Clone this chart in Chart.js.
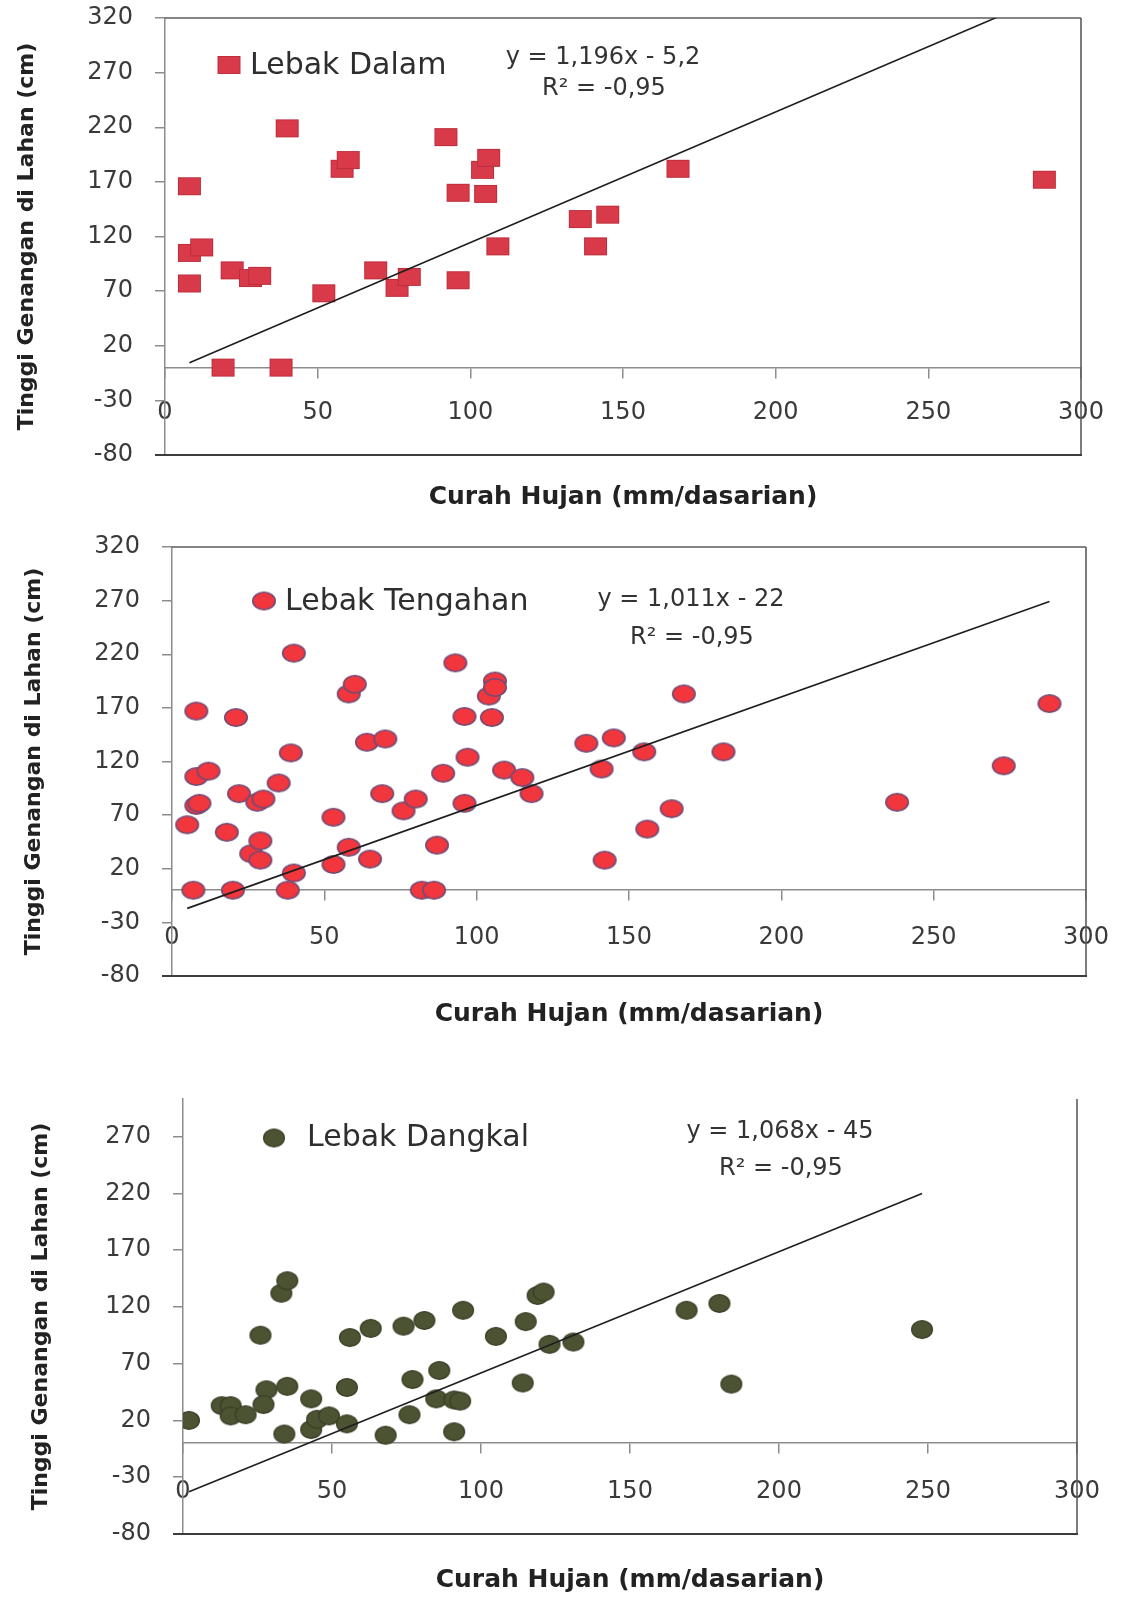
<!DOCTYPE html>
<html>
<head>
<meta charset="utf-8">
<script src="https://cdn.jsdelivr.net/npm/chart.js@4.4.0/dist/chart.umd.min.js"></script>
<style>
  html, body { margin: 0; padding: 0; background: #ffffff; }
  #page { position: relative; width: 1126px; height: 1597px; overflow: hidden; background: #fff; }
  .box { position: absolute; left: 0; width: 1126px; }
  canvas { display: block; }
</style>
</head>
<body>
<div id="page">
  <div class="box" style="top:0px;height:530px"><canvas id="c1"></canvas></div>
  <div class="box" style="top:530px;height:510px"><canvas id="c2"></canvas></div>
  <div class="box" style="top:1040px;height:557px"><canvas id="c3"></canvas></div>
</div>
<script>
// ---------------- DATA ----------------
const yTickValues = [-80, -30, 20, 70, 120, 170, 220, 270, 320];
const xTitle = 'Curah Hujan (mm/dasarian)';
const yTitle = 'Tinggi Genangan di Lahan (cm)';

const dalamLabel = 'Lebak Dalam';
const dalamX = [8, 8, 12, 8, 22, 28, 31, 19, 38, 40, 58, 60, 52, 69, 76, 80, 92, 96, 96, 104, 106, 105, 109, 136, 145, 141, 168, 288];
const dalamY = [166, 105, 110, 77, 89, 82, 84, 0, 0, 219, 182, 190, 68, 89, 73, 83, 211, 160, 80, 181, 192, 159, 111, 136, 140, 111, 182, 172];
const dalamTrend = [1.196, -5.2];
const dalamEq = ['y = 1,196x - 5,2', 'R\u00B2 = -0,95'];

const tengLabel = 'Lebak Tengahan';
const tengX = [8, 21, 8, 12, 8, 9, 5, 7, 20, 18, 22, 28, 30, 26, 29, 29, 35, 39, 40, 40, 38, 53, 53, 58, 58, 60, 64, 70, 65, 69, 76, 80, 82, 86, 87, 89, 93, 96, 97, 96, 104, 106, 106, 105, 109, 115, 118, 136, 145, 141, 155, 142, 156, 164, 168, 181, 238, 273, 288];
const tengY = [167, 161, 106, 111, 79, 81, 61, 0, 0, 54, 90, 82, 85, 34, 46, 28, 100, 128, 221, 16, 0, 68, 24, 40, 183, 192, 138, 141, 29, 90, 74, 85, 0, 0, 42, 109, 212, 162, 124, 81, 181, 195, 189, 161, 112, 105, 90, 137, 142, 113, 129, 28, 57, 76, 183, 129, 82, 116, 174];
const tengTrend = [1.011, -22];
const tengEq = ['y = 1,011x - 22', 'R\u00B2 = -0,95'];

const dangLabel = 'Lebak Dangkal';
const dangX = [2, 13, 16, 16, 21, 26, 28, 27, 33, 35, 35, 34, 43, 43, 45, 49, 55, 55, 56, 63, 68, 74, 81, 77, 76, 86, 85, 91, 93, 91, 94, 105, 115, 114, 119, 121, 123, 131, 169, 180, 184, 248];
const dangY = [20, 33, 33, 24, 25, 95, 47, 34, 132, 143, 50, 8, 39, 12, 21, 24, 17, 49, 93, 101, 7, 103, 108, 56, 25, 64, 39, 38, 37, 10, 117, 94, 107, 53, 130, 133, 87, 89, 117, 123, 52, 100];
const dangTrend = [1.068, -45];
const dangEq = ['y = 1,068x - 45', 'R\u00B2 = -0,95'];

// ---------------- STYLE / LAYOUT ----------------
Chart.defaults.font.family = "'DejaVu Sans', 'Liberation Sans', sans-serif";
Chart.defaults.color = '#3a3a3a';

function makeMarker(shape, w, h, fill, stroke, lw) {
  const c = document.createElement('canvas');
  c.width = w + 2; c.height = h + 2;
  const g = c.getContext('2d');
  g.fillStyle = fill;
  if (shape === 'rect') {
    g.fillRect(1, 1, w, h);
    if (stroke) { g.lineWidth = lw; g.strokeStyle = stroke; g.strokeRect(1 + lw / 2, 1 + lw / 2, w - lw, h - lw); }
  } else {
    const off = stroke ? lw / 2 : 0;
    g.beginPath();
    g.ellipse(c.width / 2, c.height / 2, w / 2 - off, h / 2 - off, 0, 0, Math.PI * 2);
    g.fill();
    if (stroke) { g.lineWidth = lw; g.strokeStyle = stroke; g.stroke(); }
  }
  return c;
}

const squareMarker = makeMarker('rect', 23, 18, '#d83a49', 'rgba(170,40,55,0.6)', 1);
const redMarker = makeMarker('ellipse', 24, 19, '#f1363d', '#6f4c78', 1.6);
const oliveMarker = makeMarker('ellipse', 22, 19, '#4c5332', '#3a3e26', 1.2);

const framePlugin = {
  id: 'frame',
  beforeDatasetsDraw(chart, args, o) {
    const { ctx, chartArea: a } = chart;
    ctx.save();
    ctx.strokeStyle = '#5c5c5c';
    ctx.lineWidth = 1.6;
    ctx.beginPath();
    if (o.top) { ctx.moveTo(a.left, a.top); ctx.lineTo(a.right, a.top); }
    ctx.moveTo(a.right, a.top); ctx.lineTo(a.right, a.bottom);
    ctx.stroke();
    ctx.beginPath();
    ctx.strokeStyle = '#3c3c3c';
    ctx.lineWidth = 1.8;
    ctx.moveTo(a.left - 10, a.bottom); ctx.lineTo(a.right + 1, a.bottom);
    ctx.stroke();
    ctx.restore();
  }
};

const annotPlugin = {
  id: 'annot',
  afterDraw(chart, args, o) {
    const ctx = chart.ctx;
    ctx.save();
    const m = o.marker;
    ctx.drawImage(m, o.legend.mx - m.width / 2, o.legend.my - m.height / 2);
    ctx.fillStyle = '#2e2e2e';
    ctx.font = "30px 'DejaVu Sans', sans-serif";
    ctx.textAlign = 'left';
    ctx.textBaseline = 'middle';
    ctx.fillText(chart.data.datasets[0].label, o.legend.tx, o.legend.ty);
    ctx.font = "24px 'DejaVu Sans', sans-serif";
    ctx.fillStyle = '#333333';
    ctx.textAlign = 'center';
    ctx.fillText(o.eq[0], o.eqPos[0], o.eqPos[1]);
    ctx.fillText(o.eq[1], o.eqPos[2], o.eqPos[3]);
    ctx.restore();
  }
};

function makeChart(id, label, xs, ys, trend, eq, marker, L) {
  const points = xs.map((x, i) => ({ x: x, y: ys[i] }));
  const x0 = Math.min(...xs), x1 = Math.max(...xs);
  const line = [
    { x: x0, y: trend[0] * x0 + trend[1] },
    { x: x1, y: trend[0] * x1 + trend[1] }
  ];
  const axisGray = '#8c8c8c';
  return new Chart(document.getElementById(id), {
    type: 'scatter',
    data: {
      datasets: [
        { label: label, data: points, pointStyle: marker, pointRadius: 10, pointHoverRadius: 10, order: 1 },
        { label: 'trend', data: line, showLine: true, borderColor: '#1e1e1e', borderWidth: 1.6, pointRadius: 0, pointHoverRadius: 0, fill: false, order: 0 }
      ]
    },
    options: {
      responsive: true,
      maintainAspectRatio: false,
      animation: false,
      events: [],
      layout: { padding: { top: L.padTop, right: L.padRight, left: L.padLeft, bottom: L.padBottom } },
      plugins: {
        legend: { display: false },
        tooltip: { enabled: false },
        frame: { top: L.topBorder },
        annot: { marker: marker, legend: L.legend, eq: eq, eqPos: L.eqPos }
      },
      scales: {
        x: {
          type: 'linear', position: { y: 0 }, min: 0, max: 300,
          ticks: { stepSize: 50, padding: L.xTickPad, color: '#3a3a3a', font: { size: 24 }, maxRotation: 0, autoSkip: false },
          grid: { drawOnChartArea: false, drawTicks: true, tickLength: 10, color: axisGray, lineWidth: 1.5 },
          border: { display: true, color: axisGray, width: 1.5 },
          afterFit: (s) => { s.height = 0; s.paddingLeft = 0; s.paddingRight = 0; }
        },
        xt: {
          type: 'linear', position: 'bottom', min: 0, max: 300,
          ticks: { display: false },
          grid: { display: false },
          border: { display: false },
          title: { display: true, text: xTitle, color: '#222222', font: { size: 25, weight: 'bold' }, padding: { top: 0, bottom: 0 } },
          afterFit: (s) => { s.height = L.xtHeight; }
        },
        y: {
          type: 'linear', position: 'left', min: -80, max: L.yMax,
          afterBuildTicks: (s) => { s.ticks = yTickValues.filter(v => v <= L.yMax).map(v => ({ value: v })); },
          ticks: { padding: 22, color: '#3a3a3a', font: { size: 24 }, autoSkip: false },
          grid: { drawOnChartArea: false, drawTicks: true, tickLength: 10, color: axisGray, lineWidth: 1.5 },
          border: { display: true, color: axisGray, width: 1.5 },
          title: { display: true, text: yTitle, color: '#222222', font: { size: 22, weight: 'bold' }, padding: { top: 14, bottom: 0 } },
          afterFit: (s) => { s.width = L.yWidth; s.paddingTop = 0; s.paddingBottom = 0; }
        }
      }
    },
    plugins: [framePlugin, annotPlugin]
  });
}

makeChart('c1', dalamLabel, dalamX, dalamY, dalamTrend, dalamEq, squareMarker, {
  padTop: 18, padRight: 45, padLeft: 0, padBottom: 18, yWidth: 165, xtHeight: 57, yMax: 320, xTickPad: 21, topBorder: true,
  legend: { mx: 229, my: 65, tx: 250, ty: 66 }, eqPos: [603, 58, 604, 89]
});
makeChart('c2', tengLabel, tengX, tengY, tengTrend, tengEq, redMarker, {
  padTop: 17, padRight: 40, padLeft: 7, padBottom: 11, yWidth: 165, xtHeight: 53, yMax: 320, xTickPad: 23, topBorder: true,
  legend: { mx: 264, my: 71, tx: 285, ty: 72 }, eqPos: [691, 70, 692, 108]
});
makeChart('c3', dangLabel, dangX, dangY, dangTrend, dangEq, oliveMarker, {
  padTop: 59, padRight: 49, padLeft: 14, padBottom: 2, yWidth: 169, xtHeight: 61, yMax: 303, xTickPad: 24, topBorder: false,
  legend: { mx: 274, my: 98, tx: 307, ty: 98 }, eqPos: [780, 92, 781, 129]
});
</script>
</body>
</html>
